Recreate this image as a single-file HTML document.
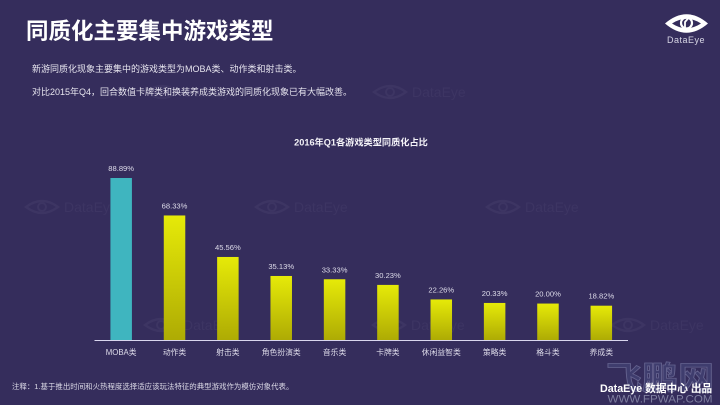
<!DOCTYPE html>
<html lang="zh">
<head>
<meta charset="utf-8">
<title>同质化主要集中游戏类型</title>
<style>
html,body{margin:0;padding:0;background:#352d5c;}
#stage{position:relative;width:720px;height:405px;overflow:hidden;background:#352d5c;font-family:"Liberation Sans","Noto Sans CJK SC",sans-serif;}
#stage div{position:absolute;white-space:nowrap;}
svg{position:absolute;left:0;top:0;}
</style>
</head>
<body>
<div id="stage">
<svg id="chart" width="720" height="405" viewBox="0 0 720 405">
<defs>
<linearGradient id="yellowGrad" x1="0" y1="0" x2="0" y2="1">
<stop offset="0" stop-color="#e6ea08"/><stop offset="1" stop-color="#aeab04"/>
</linearGradient>
<g id="wm">
<path d="M0 0 Q16 -12 32 0 Q16 12 0 0 Z" fill="none" stroke="#3d3563" stroke-width="2.400"/>
<circle cx="16" cy="0" r="4" fill="none" stroke="#3d3563" stroke-width="2"/>
</g>
</defs>
<g id="watermarks"></g>
<g>
<text x="660" y="389" text-anchor="middle" font-size="32" font-weight="700" font-family="'Liberation Sans','Noto Sans CJK SC',sans-serif" fill="#3f3d6e" stroke="#65638f" stroke-width="0.800" textLength="108" lengthAdjust="spacingAndGlyphs">飞鹏网</text>
<text x="660" y="402.500" text-anchor="middle" font-size="11" font-family="'Liberation Sans',sans-serif" fill="#7f7fa0" textLength="105" lengthAdjust="spacingAndGlyphs">WWW.FPWAP.COM</text>
</g>
<g id="marks"></g>
<g>
<path d="M665 23.500 Q686.500 5 708 23.500 Q686.500 42 665 23.500 Z M672 23.500 Q686.500 33 701 23.500 Q686.500 14 672 23.500 Z" fill="#fff" fill-rule="evenodd"/>
<circle cx="686.500" cy="23" r="5.500" fill="none" stroke="#fff" stroke-width="2.200"/>
<path d="M685 31 L685 22 L691 15" fill="none" stroke="#fff" stroke-width="1.800"/>
</g>
</svg>
<div style="left:26px;top:17px;font-size:22.500px;line-height:30px;font-weight:700;color:#fff;">同质化主要集中游戏类型</div>
<div style="left:32px;top:62px;font-size:9px;line-height:14px;color:#e6e4ee;">新游同质化现象主要集中的游戏类型为MOBA类、动作类和射击类。</div>
<div style="left:32px;top:85px;font-size:9px;line-height:14px;color:#e6e4ee;">对比2015年Q4，回合数值卡牌类和换装养成类游戏的同质化现象已有大幅改善。</div>
<div style="left:667px;top:34px;font-size:9px;line-height:12px;letter-spacing:0.500px;color:#d6d5e4;">DataEye</div>
<div style="left:12px;top:381px;font-size:7.450px;line-height:12px;color:#dddbe8;">注释：1.基于推出时间和火热程度选择适应该玩法特征的典型游戏作为模仿对象代表。</div>
<div style="left:600px;top:382px;font-size:10.700px;line-height:14px;font-weight:700;color:#fff;">DataEye 数据中心 出品</div>
</div>
<script>
var categories = ['MOBA类','动作类','射击类','角色扮演类','音乐类','卡牌类','休闲益智类','策略类','格斗类','养成类'];
var shareValues = [88.89,68.33,45.56,35.13,33.33,30.23,22.26,20.33,20.00,18.82];
var chartTitle = '2016年Q1各游戏类型同质化占比';

var NS = 'http://www.w3.org/2000/svg';
var marks = document.getElementById('marks');
var plotLeft = 94.5, plotRight = 628, baseY = 340, unitPx = 1.8225, barW = 21.5;
var bandW = (plotRight - plotLeft) / categories.length;
function xCenter(i){ return plotLeft + bandW * (i + 0.5); }
function yValue(v){ return baseY - v * unitPx; }

function addText(parent, x, y, str, size, fill, weight){
  var t = document.createElementNS(NS, 'text');
  t.setAttribute('x', x);
  t.setAttribute('y', y);
  t.setAttribute('text-anchor', 'middle');
  t.setAttribute('font-size', size);
  t.setAttribute('fill', fill);
  t.setAttribute('font-family', '"Liberation Sans","Noto Sans CJK SC",sans-serif');
  if (weight) t.setAttribute('font-weight', weight);
  t.textContent = str;
  parent.appendChild(t);
  return t;
}

var title = addText(marks, 361, 145.5, chartTitle, 9.200, '#f4f3f8', 700);



categories.forEach(function(cat, i){
  var v = shareValues[i];
  var r = document.createElementNS(NS, 'rect');
  r.setAttribute('x', xCenter(i) - barW / 2);
  r.setAttribute('y', yValue(v));
  r.setAttribute('width', barW);
  r.setAttribute('height', baseY - yValue(v));
  r.setAttribute('fill', i === 0 ? '#3fb5bf' : 'url(#yellowGrad)');
  
  
  marks.appendChild(r);

  var lab = addText(marks, xCenter(i), yValue(v) - 7, v.toFixed(2) + '%', 7.600, '#dedcea');
  
  

  var tick = addText(marks, xCenter(i), 355, cat, 7.800, '#dedcea');
  
  
});

var axis = document.createElementNS(NS, 'line');
axis.setAttribute('x1', plotLeft);
axis.setAttribute('x2', plotRight);
axis.setAttribute('y1', baseY + 0.5);
axis.setAttribute('y2', baseY + 0.5);
axis.setAttribute('stroke', '#d9d6ee');
axis.setAttribute('stroke-width', 1);


marks.appendChild(axis);

var wmGroup = document.getElementById('watermarks');
var wmSpots = [[26,207],[256,207],[487,207],[145,325],[373,325],[612,325],[374,92],[146,92]];
wmSpots.forEach(function(p){
  var u = document.createElementNS(NS, 'use');
  u.setAttribute('href', '#wm');
  u.setAttribute('transform', 'translate(' + p[0] + ',' + p[1] + ')');
  
  
  wmGroup.appendChild(u);
  var t = document.createElementNS(NS, 'text');
  t.setAttribute('x', p[0] + 38);
  t.setAttribute('y', p[1] + 5);
  t.setAttribute('font-size', 14);
  t.setAttribute('fill', '#3d3563');
  t.setAttribute('font-family', '"Liberation Sans",sans-serif');
  
  
  t.textContent = 'DataEye';
  wmGroup.appendChild(t);
});
</script>
</body>
</html>
